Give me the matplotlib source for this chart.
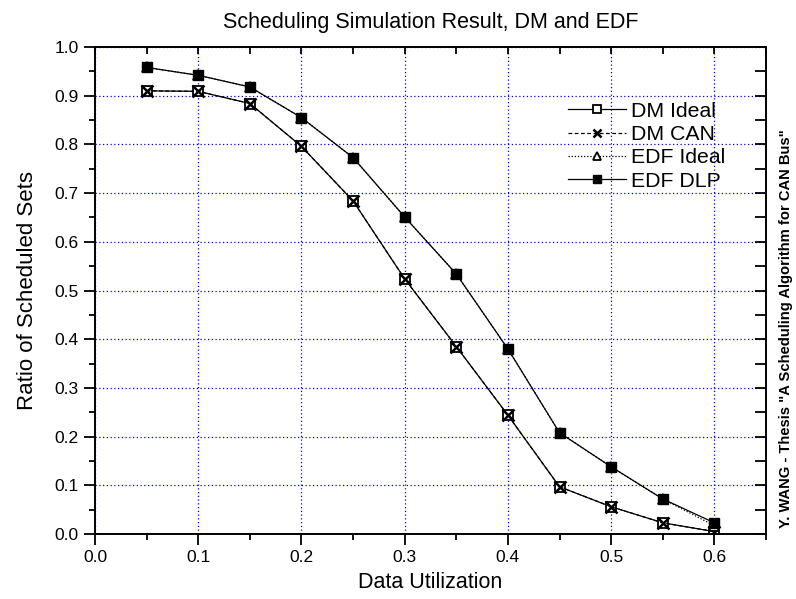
import matplotlib.pyplot as plt
import numpy as np
from matplotlib.ticker import MultipleLocator

plt.rcParams["font.family"] = ["Liberation Sans", "DejaVu Sans"]

# values
util = [0.05, 0.10, 0.15, 0.20, 0.25, 0.30, 0.35, 0.40, 0.45, 0.50, 0.55, 0.60]
dm_ideal = [0.910, 0.909, 0.884, 0.796, 0.684, 0.524, 0.385, 0.244, 0.097, 0.056, 0.023, 0.005]
dm_can = [0.910, 0.909, 0.884, 0.796, 0.684, 0.524, 0.385, 0.244, 0.097, 0.056, 0.023, 0.005]
edf_ideal = [0.958, 0.942, 0.918, 0.855, 0.773, 0.651, 0.534, 0.380, 0.208, 0.138, 0.072, 0.017]
edf_dlp = [0.958, 0.942, 0.918, 0.855, 0.773, 0.651, 0.534, 0.380, 0.208, 0.138, 0.072, 0.023]

fig = plt.figure(figsize=(7.96, 5.99), dpi=100)
ax = fig.add_axes([0.1193, 0.1085, 0.843, 0.813])

ms = 7
ax.plot(util, dm_ideal, color="k", lw=0.9, ls="-", marker="s", mfc="white", mec="k", mew=1.3, ms=ms, label="DM Ideal")
ax.plot(util, dm_can, color="k", lw=0.9, ls=(0, (3, 2)), marker="x", mec="k", mew=1.8, ms=ms + 1, label="DM CAN")
ax.plot(util, edf_ideal, color="k", lw=0.9, ls=(0, (1, 1.5)), marker="^", mfc="white", mec="k", mew=1.3, ms=ms, label="EDF Ideal")
ax.plot(util, edf_dlp, color="k", lw=0.9, ls="-", marker="s", mfc="k", mec="k", ms=ms, label="EDF DLP")

ax.set_xlim(0, 0.65)
ax.set_ylim(0, 1.0)
ax.xaxis.set_minor_locator(MultipleLocator(0.05))
ax.yaxis.set_major_locator(MultipleLocator(0.1))
ax.yaxis.set_minor_locator(MultipleLocator(0.05))
ax.set_xticks(np.arange(0, 0.61, 0.1))
ax.tick_params(which="both", labelsize=12.5, width=1.3, top=True, right=True, direction="out")
ax.tick_params(which="major", length=8)
ax.tick_params(which="minor", length=4.5)
for t in ax.xaxis.get_major_ticks() + ax.xaxis.get_minor_ticks():
    t.tick2line.set_marker(3)  # inward on top
    t.tick2line.set_markersize(5)
for t in ax.yaxis.get_major_ticks() + ax.yaxis.get_minor_ticks():
    t.tick2line.set_marker(0)  # inward on right
    t.tick2line.set_markersize(8)
for s in ax.spines.values():
    s.set_linewidth(1.4)

ax.grid(True, which="major", color="blue", ls=(0, (1, 2)), lw=0.9)
ax.set_axisbelow(True)

ax.set_xlabel("Data Utilization", fontsize=15.5, labelpad=5)
ax.set_ylabel("Ratio of Scheduled Sets", fontsize=16, labelpad=12)
ax.set_title("Scheduling Simulation Result, DM and EDF", fontsize=15.5, pad=14)

ax.legend(loc="upper left", bbox_to_anchor=(0.693, 0.905), frameon=False, fontsize=15.3,
          handlelength=2.7, handletextpad=0.25, labelspacing=0.2, borderaxespad=0, markerscale=0.75)

fig.text(0.979, 0.452, 'Y. WANG - Thesis "A Scheduling Algorithm for CAN Bus"', rotation=90,
         fontsize=10.6, fontweight="bold", ha="left", va="center")

fig.savefig("out.png", dpi=100)
